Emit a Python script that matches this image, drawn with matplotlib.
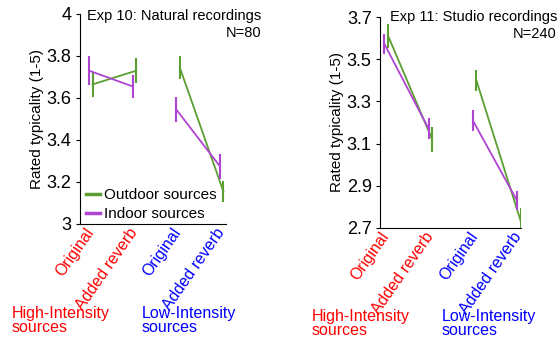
import matplotlib.pyplot as plt

plt.rcParams['font.family'] = ['Liberation Sans', 'DejaVu Sans']

GREEN = '#5b9e32'
PURPLE = '#b044d2'
RED = '#ff0000'
BLUE = '#0000ff'

conditions = ['Original', 'Added reverb', 'Original', 'Added reverb']
cond_colors = [RED, RED, BLUE, BLUE]
positions = [1, 2, 3, 4]

# Exp 10: natural recordings
exp10_outdoor = [3.665, 3.73, 3.745, 3.155]
exp10_outdoor_err = [0.06, 0.06, 0.055, 0.048]
exp10_indoor = [3.73, 3.655, 3.545, 3.275]
exp10_indoor_err = [0.07, 0.055, 0.06, 0.06]

# Exp 11: studio recordings
exp11_outdoor = [3.612, 3.12, 3.40, 2.735]
exp11_outdoor_err = [0.057, 0.06, 0.05, 0.06]
exp11_indoor = [3.572, 3.17, 3.21, 2.83]
exp11_indoor_err = [0.047, 0.05, 0.048, 0.045]

fig = plt.figure(figsize=(5.6, 3.39), dpi=100)


def draw_panel(ax, outdoor, outdoor_err, indoor, indoor_err, show_legend):
    handles = []
    for vals, errs, col, dx, name in [
            (outdoor, outdoor_err, GREEN, 0.04, 'Outdoor sources'),
            (indoor, indoor_err, PURPLE, -0.04, 'Indoor sources')]:
        xs = [p + dx for p in positions]
        h, = ax.plot(xs[:2], vals[:2], color=col, lw=1.3, label=name)
        ax.plot(xs[2:], vals[2:], color=col, lw=1.3)
        ax.errorbar(xs, vals, yerr=errs, fmt='none', ecolor=col,
                    elinewidth=1.5, capsize=0)
        handles.append(h)
    ax.spines['top'].set_visible(False)
    ax.spines['right'].set_visible(False)
    ax.set_xticks(positions)
    ax.set_xticklabels(conditions, rotation=55, ha='right',
                       rotation_mode='anchor', va='center', fontsize=11.5)
    for lab, c in zip(ax.get_xticklabels(), cond_colors):
        lab.set_color(c)
    ax.tick_params(axis='x', length=0, pad=4)
    ax.tick_params(axis='y', direction='out', length=3, labelsize=13, pad=3)
    ax.set_ylabel('Rated typicality (1-5)', fontsize=11, labelpad=2)
    if show_legend:
        leg = ax.legend(handles=handles, loc='lower left', frameon=False,
                        fontsize=11, handlelength=0.9, handletextpad=0.3,
                        borderaxespad=0.0, borderpad=0.2, labelspacing=0.3,
                        bbox_to_anchor=(0.02, 0.0))
        for line in leg.get_lines():
            line.set_linewidth(2.5)


ax1 = fig.add_axes([80 / 560, 1 - 224 / 339, 146 / 560, 210 / 339])
draw_panel(ax1, exp10_outdoor, exp10_outdoor_err, exp10_indoor,
           exp10_indoor_err, True)
ax1.set_xlim(0.75, 4.1)
ax1.set_ylim(3, 4)
ax1.set_yticks([3, 3.2, 3.4, 3.6, 3.8, 4])
ax1.set_yticklabels(['3', '3.2', '3.4', '3.6', '3.8', '4'])

ax2 = fig.add_axes([380 / 560, 1 - 228 / 339, 141 / 560, 211 / 339])
draw_panel(ax2, exp11_outdoor, exp11_outdoor_err, exp11_indoor,
           exp11_indoor_err, False)
ax2.set_xlim(0.86, 4.05)
ax2.set_ylim(2.7, 3.7)
ax2.set_yticks([2.7, 2.9, 3.1, 3.3, 3.5, 3.7])

# panel titles
fig.text(261 / 560, 1 - 20 / 339, 'Exp 10: Natural recordings', ha='right',
         va='baseline', fontsize=10.5)
fig.text(261 / 560, 1 - 37 / 339, 'N=80', ha='right', va='baseline',
         fontsize=10.5)
fig.text(557 / 560, 1 - 21 / 339, 'Exp 11: Studio recordings', ha='right',
         va='baseline', fontsize=10.5)
fig.text(557 / 560, 1 - 38 / 339, 'N=240', ha='right', va='baseline',
         fontsize=10.5)

# group labels, one text per line
for x, y, txt, c in [(12, 318, 'High-Intensity', RED),
                     (12, 332, 'sources', RED),
                     (142, 318, 'Low-Intensity', BLUE),
                     (142, 332, 'sources', BLUE),
                     (312, 321, 'High-Intensity', RED),
                     (312, 335, 'sources', RED),
                     (442, 321, 'Low-Intensity', BLUE),
                     (442, 335, 'sources', BLUE)]:
    fig.text(x / 560, 1 - y / 339, txt, ha='left', va='baseline', color=c,
             fontsize=11.5)

fig.savefig('out.png', dpi=100)
